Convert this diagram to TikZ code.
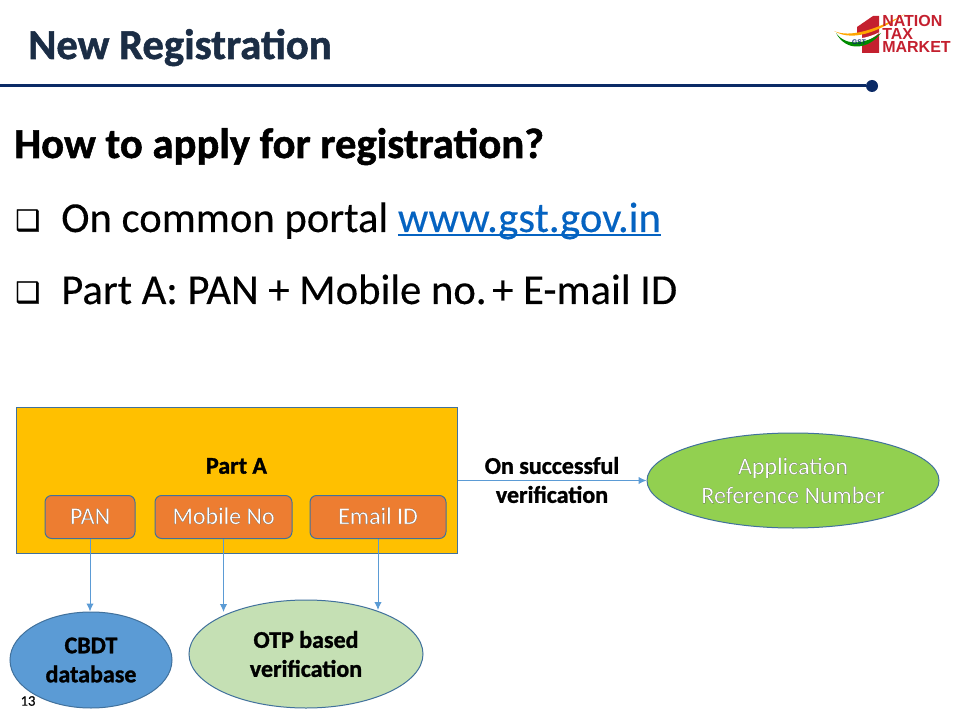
\documentclass[tikz,border=0pt]{standalone}
\usepackage{fontspec}
\usetikzlibrary{shapes.geometric, arrows.meta}
\setmainfont{Carlito}[FakeBold=0.25, BoldFeatures={FakeBold=1.2}]
\newfontfamily\logofont{Liberation Sans}
\newfontfamily\bulletfont{DejaVu Sans}[FakeBold=1.2]
\newfontfamily\ringfont{Carlito}[FakeBold=0.5]
\newcommand{\ringed}[1]{{\ringfont\special{pdf:code 0.3 0.3 0.3 RG}#1}}
\newcommand{\linktext}[1]{\setbox0\hbox{#1}\rlap{\rule[-3pt]{\wd0}{1.5pt}}\box0}
\definecolor{navy}{HTML}{0B2A66}
\definecolor{titleink}{HTML}{1B2D45}
\definecolor{linkblue}{HTML}{0563C1}
\definecolor{boxgold}{HTML}{FFC000}
\definecolor{boxorange}{HTML}{ED7D31}
\definecolor{edgeblue}{HTML}{5B9BD5}
\definecolor{edgeslate}{HTML}{41719C}
\definecolor{leafgreen}{HTML}{92D050}
\definecolor{palegreen}{HTML}{C5E0B4}
\definecolor{logored}{HTML}{C4202F}
\begin{document}
\begin{tikzpicture}[x=0.75pt,y=-0.75pt]
\tikzstyle{heading}=[anchor=base west, inner sep=0pt, font=\fontsize{32}{34}\selectfont\bfseries]
\tikzstyle{item}=[anchor=base west, inner sep=0pt, font=\fontsize{32}{34}\selectfont]
\tikzstyle{tick}=[anchor=base west, inner sep=0pt, font=\bulletfont\fontsize{21}{22}\selectfont]
\tikzstyle{field}=[rectangle, rounded corners=5pt, draw=edgeslate, fill=boxorange, text=white, line width=0.75pt,
                        inner sep=0pt, minimum height=32.25pt, text height=12pt, text depth=1.5pt, font=\fontsize{18}{20}\selectfont]
\tikzstyle{oval}=[ellipse, draw=edgeslate, line width=0.75pt, inner sep=0pt, align=center]
\tikzstyle{link}=[draw=edgeblue, line width=0.75pt, -{Latex[length=6pt,width=5.5pt]}]
\tikzstyle{logotext}=[anchor=base west, inner sep=0pt, text=logored, font=\logofont\fontsize{12}{12}\selectfont\bfseries]
	\path[use as bounding box, fill=white] (0,0) rectangle (960,720);
	% header
	\node[heading, text=titleink] (title) at (28,59){New Registration};
	\coordinate (ruleL) at (0,86);
	\node[circle, fill=navy, inner sep=0pt, minimum size=9pt] (ruleR) at (872,86){};
	\draw[navy, line width=2.25pt] (ruleL)--(ruleR);
	% logo
	\fill[logored] (857,27)--(873,16)--(879,16)--(879,53)--(862,53)--(862,33)--(857,35)--cycle;
	\fill[orange!70!yellow] (834,31) .. controls (850,38) and (875,30) .. (905,14) .. controls (885,27) and (856,44) .. (834,31)--cycle;
	\fill[white] (836,33) .. controls (850,43) and (868,38) .. (880,32) .. controls (870,42) and (850,50) .. (836,33)--cycle;
	\fill[green!55!black] (836,33) .. controls (846,47) and (866,44) .. (881,33) .. controls (868,50) and (846,52) .. (836,33)--cycle;
	\node[inner sep=0pt, text=navy, font=\logofont\fontsize{5}{5}\selectfont\bfseries] (gst) at (859,42){GST};
	\node[logotext] (nation) at (882,27){NATION};
	\node[logotext] (tax) at (882,40){TAX};
	\node[logotext] (market) at (882,53){MARKET};
	% text
	\node[heading] (howto) at (14,158){How to apply for registration?};
	\node[tick] (tickA) at (15,230){❑};
	\node[item] (portal) at (61,232){On common portal \textcolor{linkblue}{\linktext{www.gst.gov.in}}};
	\node[tick] (tickB) at (15,302){❑};
	\node[item] (parta) at (61,304){Part A: PAN + Mobile no.\kern-3pt\ + E-mail ID};
	% diagram
	\node[rectangle, draw=edgeslate, line width=0.75pt, fill=boxgold, inner sep=0pt, minimum width=330.75pt, minimum height=109.5pt] (box) at (236.5,480){};
	\node[inner sep=0pt, font=\fontsize{18}{20}\selectfont\bfseries] (boxlabel) at (236.5,466){Part A};
	\node[field, minimum width=67.5pt] (pan) at (90,517){\ringed{PAN}};
	\node[field, minimum width=102.75pt] (mobile) at (223.5,517){\ringed{Mobile No}};
	\node[field, minimum width=102pt] (email) at (378,517){\ringed{Email ID}};
	\node[oval, fill=edgeblue, minimum width=121.5pt, minimum height=72pt, font=\fontsize{18}{21.75}\selectfont\bfseries] (cbdt) at (91,660){CBDT\\database};
	\node[oval, fill=palegreen, minimum width=175.5pt, minimum height=81pt, font=\fontsize{18}{21.75}\selectfont\bfseries] (otp) at (306,654){OTP based\\verification};
	\node[oval, fill=leafgreen, text=white, minimum width=219pt, minimum height=71.25pt, font=\fontsize{18}{21.75}\selectfont] (appref) at (793,480.5){\ringed{Application}\\\ringed{Reference Number}};
	\node[inner sep=0pt, align=center, font=\fontsize{18}{21.75}\selectfont\bfseries] (success) at (552,480){On successful\\verification};
	\node[inner sep=0pt, font=\fontsize{11}{12}\selectfont] (pageno) at (28,701){13};
	\coordinate (mobileEnd) at (223.5,612);
	\coordinate (emailEnd) at (378,610);
	\draw[link] (pan)--(cbdt.north-|pan.south);
	\draw[link] (mobile)--(mobileEnd);
	\draw[link] (email)--(emailEnd);
	\draw[link] (box.east|-appref)--(appref);
\end{tikzpicture}
\end{document}
